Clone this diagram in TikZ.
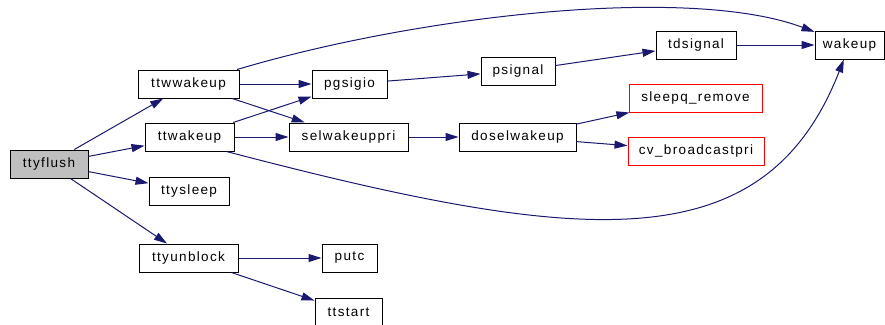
\documentclass[tikz,border=0pt]{standalone}
\usepackage{fontspec}
\setmainfont{Liberation Sans}[LetterSpace=10]
\usepackage{tikz}
\usetikzlibrary{arrows.meta}
\definecolor{edgeblue}{RGB}{25,25,112}
\definecolor{rootgray}{RGB}{191,191,191}

\tikzset{
	fn/.style={draw=black,line width=1pt,minimum height=28pt,inner sep=0pt,
		font=\fontsize{13.5}{16}\selectfont},
	fnroot/.style={fn,fill=rootgray},
	fnext/.style={fn,draw=red},
	call/.style={->,draw=edgeblue,line width=1pt},
}

\begin{document}
\begin{tikzpicture}[x=1pt,y=-1pt,>={Triangle[length=13pt,width=8pt]}]
		\useasboundingbox (0,0) rectangle (885,324);
		
		% caller
		\node[fnroot,minimum width=78pt] (ttyflush) at (49,164) {ttyflush};
		
		% first level
		\node[fn,minimum width=101pt] (ttwwakeup) at (188.5,84) {ttwwakeup};
		\node[fn,minimum width=89pt] (ttwakeup) at (189.5,137) {ttwakeup};
		\node[fn,minimum width=80pt] (ttysleep) at (189,191) {ttysleep};
		\node[fn,minimum width=99pt] (ttyunblock) at (188.5,258) {ttyunblock};
		
		% second level
		\node[fn,minimum width=75pt] (pgsigio) at (349.5,84) {pgsigio};
		\node[fn,minimum width=119pt] (selwakeuppri) at (348.5,137) {selwakeuppri};
		\node[fn,minimum width=55pt] (putc) at (349.5,258) {putc};
		\node[fn,minimum width=67pt] (ttstart) at (348.5,312) {ttstart};
		
		% third level
		\node[fn,minimum width=74pt] (psignal) at (518,71) {psignal};
		\node[fn,minimum width=117pt] (doselwakeup) at (517.5,137) {doselwakeup};
		
		% fourth level
		\node[fn,minimum width=80pt] (tdsignal) at (696,45) {tdsignal};
		\node[fnext,minimum width=133pt] (sleepq) at (695.5,98) {sleepq\_remove};
		\node[fnext,minimum width=136pt] (cvbcast) at (696,151) {cv\_broadcastpri};
		\node[fn,minimum width=69pt] (wakeup) at (849.5,45) {wakeup};
		
		\draw[call] (ttyflush) -- (ttwwakeup);
		\draw[call] (ttyflush) -- (ttwakeup);
		\draw[call] (ttyflush) -- (ttysleep);
		\draw[call] (ttyflush) -- (ttyunblock);
		
		\draw[call] (ttwwakeup) .. controls (420,15) and (690,-15) .. (wakeup);
		\draw[call] (ttwwakeup) -- (pgsigio);
		\draw[call] (ttwwakeup) -- (selwakeuppri);
		\draw[call] (ttwakeup) -- (pgsigio);
		\draw[call] (ttwakeup) -- (selwakeuppri);
		\draw[call] ([xshift=-8pt]ttwakeup.south east) .. controls (580,244) and (764,264) .. (wakeup);
		
		\draw[call] (pgsigio) -- (psignal);
		\draw[call] (psignal) -- (tdsignal);
		\draw[call] (tdsignal) -- (wakeup);
		\draw[call] (selwakeuppri) -- (doselwakeup);
		\draw[call] (doselwakeup) -- (sleepq);
		\draw[call] (doselwakeup) -- (cvbcast);
		
		\draw[call] (ttyunblock) -- (putc);
		\draw[call] (ttyunblock) -- (ttstart);
		
	\end{tikzpicture}
\end{document}
